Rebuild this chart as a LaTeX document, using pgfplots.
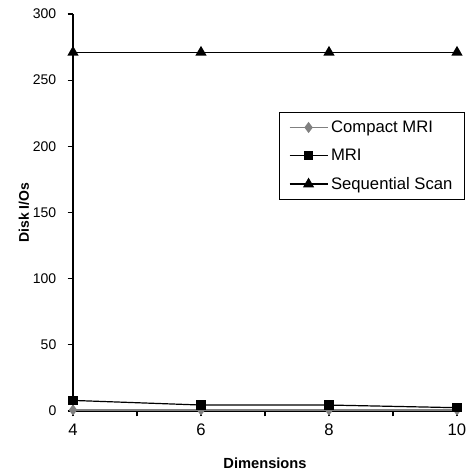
\documentclass[border=0pt]{standalone}
\usepackage{pgfplots}
\pgfplotsset{compat=1.18}
\usepackage{fontspec}
\setmainfont{Liberation Sans}
\begin{document}
\begin{tikzpicture}[x=0.75pt,y=0.75pt]
\begin{axis}[
  scale only axis,
  width=288pt, height=297.75pt,
  at={(0,0)}, anchor=origin,
  xmin=4, xmax=10, ymin=0, ymax=300,
  axis x line*=bottom, axis y line*=left,
  axis line style={line width=1.1pt, -},
  xtick={4,6,8,10}, minor xtick={5,7,9},
  ytick={0,50,100,150,200,250,300},
  tick align=outside,
  major tick length=4pt, minor tick length=4pt,
  tick style={black, line width=0.9pt},
  /pgf/number format/assume math mode=true,
  xticklabel style={font=\fontsize{12.5}{14}\selectfont, yshift=-2pt},
  yticklabel style={font=\fontsize{10.5}{12}\selectfont, xshift=-5pt},
  xlabel={\textbf{Dimensions}},
  ylabel={\textbf{Disk I/Os}},
  xlabel style={font=\fontsize{11}{13}\selectfont, yshift=-10pt},
  ylabel style={font=\fontsize{10.5}{12}\selectfont, yshift=-4pt},
  legend cell align=left,
  legend style={at={(1.021,0.753)}, anchor=north east,
     draw=black, line width=0.9pt, font=\fontsize{12.5}{14}\selectfont,
     row sep=7pt, inner xsep=7pt, inner ysep=4pt},
  legend image code/.code={
     \draw[#1] (0cm,0cm) -- (0.5cm,0cm);
     \draw[#1, only marks] plot coordinates {(0.5cm,0cm)};
     \draw[#1] (0.5cm,0cm) -- (1.0cm,0cm);},
  clip=false,
]
\addplot[color=gray, line width=1.2pt, mark=diamond*, mark size=3.2pt, mark options={fill=gray, draw=gray}]
  coordinates {(4,0.8) (6,0.8) (8,0.8) (10,0.8)};
\addlegendentry{Compact MRI}
\addplot[color=black, line width=0.9pt, mark=square*, mark size=3pt, mark options={fill=black}]
  coordinates {(4,8) (6,4.5) (8,4.5) (10,2.5)};
\addlegendentry{MRI}
\addplot[color=black, line width=1.3pt, mark=triangle*, mark size=3.6pt, mark options={fill=black}]
  coordinates {(4,271) (6,271) (8,271) (10,271)};
\addlegendentry{Sequential Scan}
\end{axis}
\path (-73,-64) rectangle (394,411);
\end{tikzpicture}
\end{document}
